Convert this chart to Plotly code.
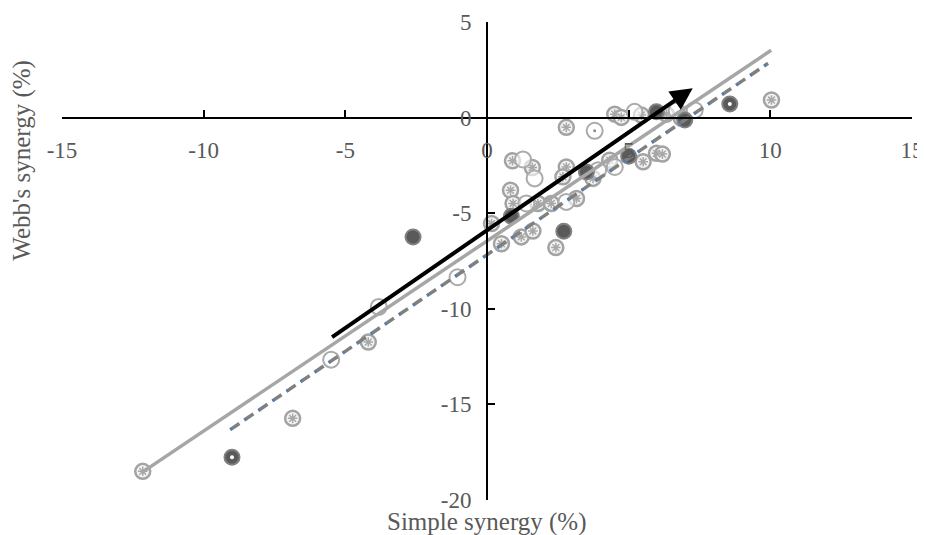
import plotly.graph_objects as go

# ---- data ----
pat_x = [-12.15, -6.86, -4.19, 0.16, 0.51, 1.21, 1.62, 2.43, 0.83, 0.92, 1.80, 2.27, 3.16,
         0.90, 1.60, 2.80, 2.68, 3.74, 4.33, 5.51, 5.98, 6.19, 2.80, 4.51, 4.74, 5.45, 6.33, 6.86, 10.04]
pat_y = [-18.5, -15.73, -11.74, -5.54, -6.60, -6.24, -5.93, -6.80, -3.80, -4.49, -4.49, -4.49, -4.23,
         -2.26, -2.61, -2.58, -3.10, -3.18, -2.23, -2.31, -1.87, -1.91, -0.51, 0.18, 0.01, 0.13, 0.18, -0.04, 0.92]

open_x = [-5.50, -3.82, -1.04, 1.27, 1.68, 1.39, 2.80, 4.51, 3.92, 5.21, 6.69, 7.33, 3.80]
open_y = [-12.66, -9.90, -8.35, -2.19, -3.18, -4.49, -4.41, -2.58, -2.75, 0.30, 0.36, 0.39, -0.69]
open_dot_x = [3.80]
open_dot_y = [-0.69]

dark_x = [-9.00, -2.61, 2.71, 5.00, 0.86, 3.51, 5.98, 6.98, 8.57]
dark_y = [-17.76, -6.24, -5.94, -2.02, -5.16, -2.84, 0.30, -0.13, 0.71]
dark_dot_x = [-9.00, 8.57]
dark_dot_y = [-17.76, 0.71]

solid_fit_x = [-12.2, 10.03]
solid_fit_y = [-18.58, 3.52]
dash_fit_x = [-9.06, 9.92]
dash_fit_y = [-16.32, 2.84]

arrow_start = (-5.52, -11.54)
arrow_end = (7.26, 1.54)

x_ticks = [-15, -10, -5, 0, 5, 10, 15]
y_ticks = [5, 0, -5, -10, -15, -20]

x_title = "Simple synergy (%)"
y_title = "Webb's synergy (%)"

FONT = "Liberation Serif, Times New Roman, serif"
GRAY_TXT = "#595959"

fig = go.Figure()

# patterned circles
fig.add_trace(go.Scatter(x=pat_x, y=pat_y, mode="markers", hoverinfo="skip",
                         marker=dict(symbol="circle", size=15, color="#f4f4f4",
                                     line=dict(color="#a3a3a3", width=2.5))))
fig.add_trace(go.Scatter(x=pat_x, y=pat_y, mode="markers", hoverinfo="skip",
                         marker=dict(symbol="asterisk-open", size=8, color="#a8a8a8",
                                     line=dict(color="#a8a8a8", width=1.5))))
# open circles
fig.add_trace(go.Scatter(x=open_x, y=open_y, mode="markers", hoverinfo="skip",
                         marker=dict(symbol="circle", size=16, color="rgba(255,255,255,0.6)",
                                     line=dict(color="#ababab", width=2))))
fig.add_trace(go.Scatter(x=open_dot_x, y=open_dot_y, mode="markers", hoverinfo="skip",
                         marker=dict(symbol="circle", size=3, color="#8c8c8c")))
# dark circles
fig.add_trace(go.Scatter(x=dark_x, y=dark_y, mode="markers", hoverinfo="skip",
                         marker=dict(symbol="circle", size=15, color="#5a5a5a",
                                     line=dict(color="#808080", width=2))))
fig.add_trace(go.Scatter(x=dark_dot_x, y=dark_dot_y, mode="markers", hoverinfo="skip",
                         marker=dict(symbol="circle", size=4, color="#ffffff")))

# trend lines
fig.add_trace(go.Scatter(x=solid_fit_x, y=solid_fit_y, mode="lines", hoverinfo="skip",
                         line=dict(color="#a6a6a6", width=3.5)))
fig.add_trace(go.Scatter(x=dash_fit_x, y=dash_fit_y, mode="lines", hoverinfo="skip",
                         line=dict(color="#808080", width=3.5, dash="11px,6px")))
fig.add_trace(go.Scatter(x=dash_fit_x, y=dash_fit_y, mode="lines", hoverinfo="skip",
                         line=dict(color="#4a7bc8", width=2.5, dash="2px,15px")))

fig.add_annotation(x=arrow_end[0], y=arrow_end[1], ax=arrow_start[0], ay=arrow_start[1],
                   xref="x", yref="y", axref="x", ayref="y", text="", showarrow=True,
                   arrowhead=2, arrowsize=1.1, arrowwidth=4, arrowcolor="#000000")

fig.add_annotation(x=0.5, y=-0.046, xref="paper", yref="paper", text=x_title, showarrow=False,
                   xanchor="center", yanchor="middle",
                   font=dict(family=FONT, size=25, color=GRAY_TXT))
fig.add_annotation(x=-0.047, y=0.71, xref="paper", yref="paper", text=y_title, showarrow=False,
                   textangle=-90, xanchor="center", yanchor="middle",
                   font=dict(family=FONT, size=25, color=GRAY_TXT))

# the page body adds an 8px offset, so the figure is sized 8px smaller and shifted
fig.update_layout(
    width=917, height=527,
    margin=dict(l=54, r=13, t=14, b=35, autoexpand=False),
    paper_bgcolor="white", plot_bgcolor="white",
    showlegend=False,
    font=dict(family=FONT, color=GRAY_TXT),
    xaxis=dict(range=[-15, 15], tickvals=x_ticks, ticktext=[str(v) for v in x_ticks],
               showgrid=False, zeroline=False, showline=True, linecolor="#000000", linewidth=2,
               ticks="inside", ticklen=7, tickwidth=2, tickcolor="#000000",
               anchor="free", position=0.8, ticklabelstandoff=12, automargin=False,
               tickfont=dict(family=FONT, size=23, color=GRAY_TXT)),
    yaxis=dict(range=[-20, 5], tickvals=y_ticks, ticktext=[str(v) for v in y_ticks],
               showgrid=False, zeroline=False, showline=True, linecolor="#000000", linewidth=2,
               ticks="inside", ticklen=7, tickwidth=2, tickcolor="#000000",
               anchor="free", position=0.5, ticklabelstandoff=10, automargin=False,
               tickfont=dict(family=FONT, size=23, color=GRAY_TXT)),
)

fig.write_html("out.html")
